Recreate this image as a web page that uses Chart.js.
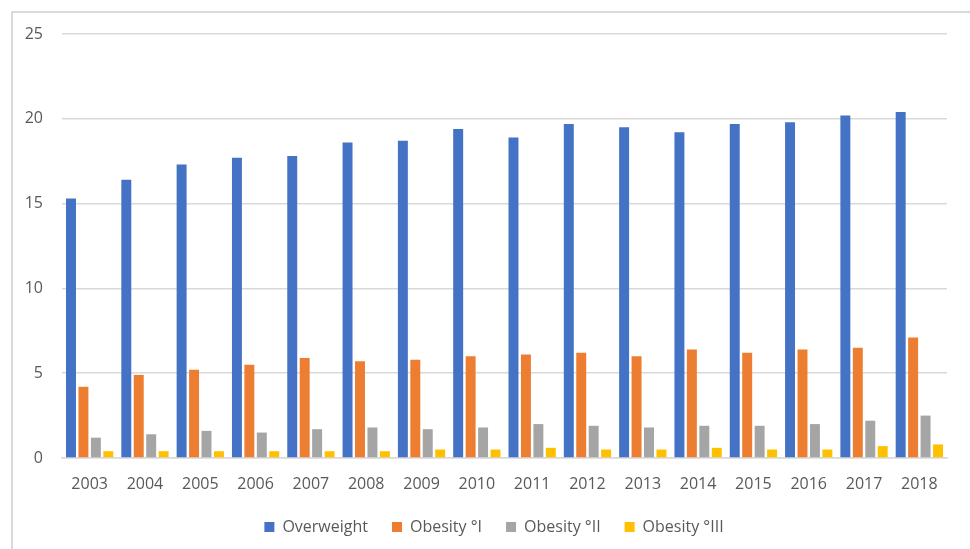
<!DOCTYPE html>
<html>
<head>
<meta charset="utf-8">
<script src="https://cdn.jsdelivr.net/npm/chart.js@4.4.1/dist/chart.umd.min.js"></script>
<style>
  html, body { margin: 0; padding: 0; background: #ffffff; }
  #frame { position: absolute; left: 11px; top: 11px; width: 957px; height: 536px;
           border-left: 2px solid #d9d9d9; border-top: 2px solid #d9d9d9; }
  canvas { display: block; }
</style>
</head>
<body>
<div id="frame"><canvas id="c" width="957" height="536"></canvas></div>
<script>
const categories = ['2003','2004','2005','2006','2007','2008','2009','2010','2011','2012','2013','2014','2015','2016','2017','2018'];
const overweight = [15.3, 16.4, 17.3, 17.7, 17.8, 18.6, 18.7, 19.4, 18.9, 19.7, 19.5, 19.2, 19.7, 19.8, 20.2, 20.4];
const obesityI   = [4.2, 4.9, 5.2, 5.5, 5.9, 5.7, 5.8, 6.0, 6.1, 6.2, 6.0, 6.4, 6.2, 6.4, 6.5, 7.1];
const obesityII  = [1.2, 1.4, 1.6, 1.5, 1.7, 1.8, 1.7, 1.8, 2.0, 1.9, 1.8, 1.9, 1.9, 2.0, 2.2, 2.5];
const obesityIII = [0.4, 0.4, 0.4, 0.4, 0.4, 0.4, 0.5, 0.5, 0.6, 0.5, 0.5, 0.6, 0.5, 0.5, 0.7, 0.8];
const seriesNames = ['Overweight', 'Obesity °I', 'Obesity °II', 'Obesity °III'];
const yTicks = [0, 5, 10, 15, 20, 25];

const colors = ['#4472C4', '#ED7D31', '#A5A5A5', '#FFC000'];
const textColor = '#595959';
const fontFamily = '"Open Sans", "Noto Sans", sans-serif';

const legendShift = {
  id: 'legendShift',
  afterLayout(chart) {
    if (chart.legend) { chart.legend.left += 14; chart.legend.right += 14; }
  }
};

new Chart(document.getElementById('c'), {
  type: 'bar',
  plugins: [legendShift],
  data: {
    labels: categories,
    datasets: [overweight, obesityI, obesityII, obesityIII].map((d, i) => ({
      label: seriesNames[i],
      data: d,
      backgroundColor: colors[i],
      borderWidth: 0,
      categoryPercentage: 0.9,
      barPercentage: 0.8
    }))
  },
  options: {
    responsive: false,
    animation: false,
    devicePixelRatio: 1,
    layout: { padding: { top: 21, right: 23, bottom: 4, left: 0 } },
    plugins: {
      tooltip: { enabled: false },
      legend: {
        position: 'bottom',
        labels: {
          boxWidth: 10, boxHeight: 10, padding: 24,
          color: textColor,
          font: { family: fontFamily, size: 16 }
        }
      }
    },
    scales: {
      x: {
        afterFit: (s) => { s.height = 37; },
        grid: { display: false, drawTicks: false },
        border: { display: true, color: '#d9d9d9', width: 1.5 },
        ticks: { color: textColor, font: { family: fontFamily, size: 16 }, padding: 17, maxRotation: 0 }
      },
      y: {
        min: 0, max: 25,
        afterBuildTicks: (s) => { s.ticks = yTicks.map(v => ({ value: v })); },
        afterFit: (s) => { s.width = 49; s.paddingTop = 0; s.paddingBottom = 0; },
        grid: { color: '#d9d9d9', lineWidth: 1.5, drawTicks: false },
        border: { display: false },
        ticks: { color: textColor, font: { family: fontFamily, size: 16 }, padding: 19 }
      }
    }
  }
});
</script>
</body>
</html>
